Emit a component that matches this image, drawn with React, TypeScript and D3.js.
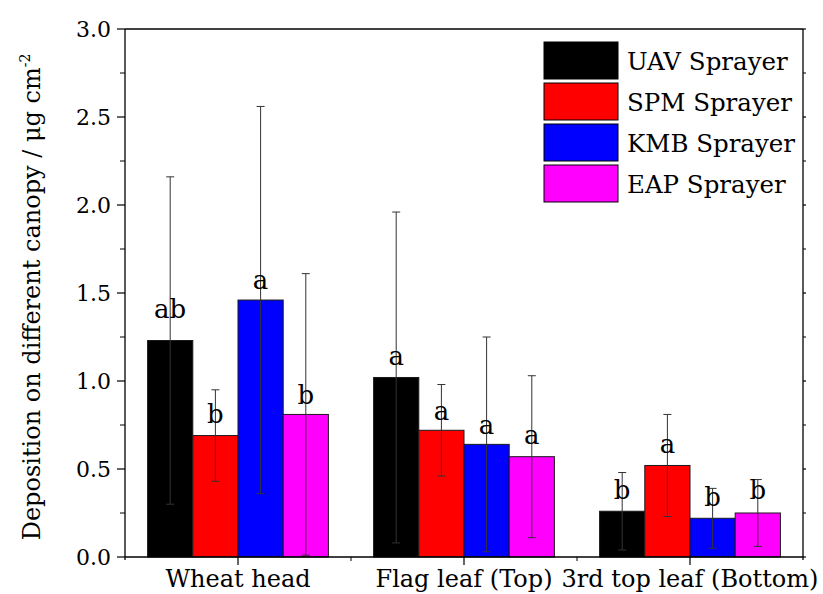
import React from "react";
import * as d3 from "d3";

const categories = ["Wheat head", "Flag leaf (Top)", "3rd top leaf (Bottom)"];
const seriesNames = ["UAV Sprayer", "SPM Sprayer", "KMB Sprayer", "EAP Sprayer"];
const seriesColors = ["#000000", "#ff0000", "#0000ff", "#ff00ff"];
const uavValues = [1.23, 1.02, 0.26];
const spmValues = [0.69, 0.72, 0.52];
const kmbValues = [1.46, 0.64, 0.22];
const eapValues = [0.81, 0.57, 0.25];
const uavErrors = [0.93, 0.94, 0.22];
const spmErrors = [0.26, 0.26, 0.29];
const kmbErrors = [1.10, 0.61, 0.17];
const eapErrors = [0.80, 0.46, 0.19];
const uavLetters = ["ab", "a", "b"];
const spmLetters = ["b", "a", "a"];
const kmbLetters = ["a", "a", "b"];
const eapLetters = ["b", "a", "b"];
const uavLabelAt = [1.36, 1.09, 0.33];
const spmLabelAt = [0.76, 0.78, 0.59];
const kmbLabelAt = [1.52, 0.70, 0.29];
const eapLabelAt = [0.87, 0.64, 0.33];
const yTicks = [0, 0.5, 1.0, 1.5, 2.0, 2.5, 3.0];
const yMinorTicks = [0.25, 0.75, 1.25, 1.75, 2.25, 2.75];

const values = [uavValues, spmValues, kmbValues, eapValues];
const errors = [uavErrors, spmErrors, kmbErrors, eapErrors];
const letters = [uavLetters, spmLetters, kmbLetters, eapLetters];
const labelAt = [uavLabelAt, spmLabelAt, kmbLabelAt, eapLabelAt];

const W = 823;
const H = 594;
const left = 125;
const right = 803;
const top = 29;
const bottom = 557;
const ts = { fontFamily: "DejaVu Serif" } as React.CSSProperties;

export default function App() {
  const x = d3.scaleBand<string>().domain(categories).range([left, right]).padding(0);
  const bw = x.bandwidth();
  const xs = d3
    .scaleBand<string>()
    .domain(seriesNames)
    .range([bw * 0.1, bw * 0.9])
    .padding(0);
  const y = d3.scaleLinear().domain([0, 3]).range([bottom, top]);
  const barW = xs.bandwidth();

  return (
    <svg width={W} height={H} style={{ position: "absolute", left: 0, top: 0, background: "#fff" }}>
      {seriesNames.map((s, si) =>
        categories.map((c, ci) => {
          const x0 = (x(c) as number) + (xs(s) as number);
          const v = values[si][ci];
          return (
            <rect
              key={s + c}
              x={x0}
              y={y(v)}
              width={barW}
              height={y(0) - y(v)}
              fill={seriesColors[si]}
              stroke="#1a1a1a"
              strokeWidth={1}
            />
          );
        })
      )}
      {seriesNames.map((s, si) =>
        categories.map((c, ci) => {
          const cx = (x(c) as number) + (xs(s) as number) + barW / 2;
          const v = values[si][ci];
          const e = errors[si][ci];
          const y1 = y(v + e);
          const y2 = y(Math.max(0, v - e));
          return (
            <g key={"e" + s + c} stroke="#333" strokeWidth={1}>
              <line x1={cx} x2={cx} y1={y1} y2={y2} />
              <line x1={cx - 4} x2={cx + 4} y1={y1} y2={y1} />
              <line x1={cx - 4} x2={cx + 4} y1={y2} y2={y2} />
            </g>
          );
        })
      )}
      {seriesNames.map((s, si) =>
        categories.map((c, ci) => {
          const cx = (x(c) as number) + (xs(s) as number) + barW / 2;
          return (
            <text key={"l" + s + c} x={cx} y={y(labelAt[si][ci])} textAnchor="middle" fontSize={26} fill="#000" style={ts}>
              {letters[si][ci]}
            </text>
          );
        })
      )}
      <g stroke="#000" strokeWidth={1.3} fill="none">
        <line x1={left} x2={right} y1={bottom} y2={bottom} />
        <line x1={left} x2={right} y1={top} y2={top} />
        <line x1={left} x2={left} y1={top} y2={bottom + 3} />
        <line x1={right} x2={right} y1={top} y2={bottom + 3} />
      </g>
      {yTicks.map((t) => (
        <g key={"yt" + t}>
          <line x1={left - 8} x2={left} y1={y(t)} y2={y(t)} stroke="#000" strokeWidth={1.2} />
          <line x1={right} x2={right + 3} y1={y(t)} y2={y(t)} stroke="#000" strokeWidth={1.2} />
          <text x={left - 14} y={y(t)} dy="0.36em" textAnchor="end" fontSize={22} fill="#000" style={ts}>
            {d3.format(".1f")(t)}
          </text>
        </g>
      ))}
      {yMinorTicks.map((t) => (
        <g key={"ym" + t}>
          <line x1={left - 5} x2={left} y1={y(t)} y2={y(t)} stroke="#000" strokeWidth={1} />
          <line x1={right} x2={right + 3} y1={y(t)} y2={y(t)} stroke="#000" strokeWidth={1} />
        </g>
      ))}
      {categories.map((c) => {
        const cx = (x(c) as number) + bw / 2;
        return (
          <g key={"xt" + c}>
            <line x1={cx} x2={cx} y1={bottom} y2={bottom + 8} stroke="#000" strokeWidth={1.2} />
            <text x={cx} y={587} textAnchor="middle" fontSize={24} fill="#000" style={ts}>
              {c}
            </text>
          </g>
        );
      })}
      {categories.slice(1).map((c) => (
        <line key={"xm" + c} x1={x(c) as number} x2={x(c) as number} y1={bottom} y2={bottom + 4} stroke="#000" strokeWidth={1} />
      ))}
      <text transform={`translate(40,${(top + bottom) / 2 + 4}) rotate(-90)`} textAnchor="middle" fontSize={24} fill="#000" style={ts}>
        Deposition on different canopy / μg cm
        <tspan dy={-10} fontSize={14}>-2</tspan>
      </text>
      {seriesNames.map((s, si) => (
        <g key={"lg" + s}>
          <rect x={544} y={42 + si * 41} width={74} height={37} fill={seriesColors[si]} stroke="#000" strokeWidth={1} />
          <text x={627} y={70 + si * 41} fontSize={24.5} fill="#000" style={ts}>
            {s}
          </text>
        </g>
      ))}
    </svg>
  );
}
